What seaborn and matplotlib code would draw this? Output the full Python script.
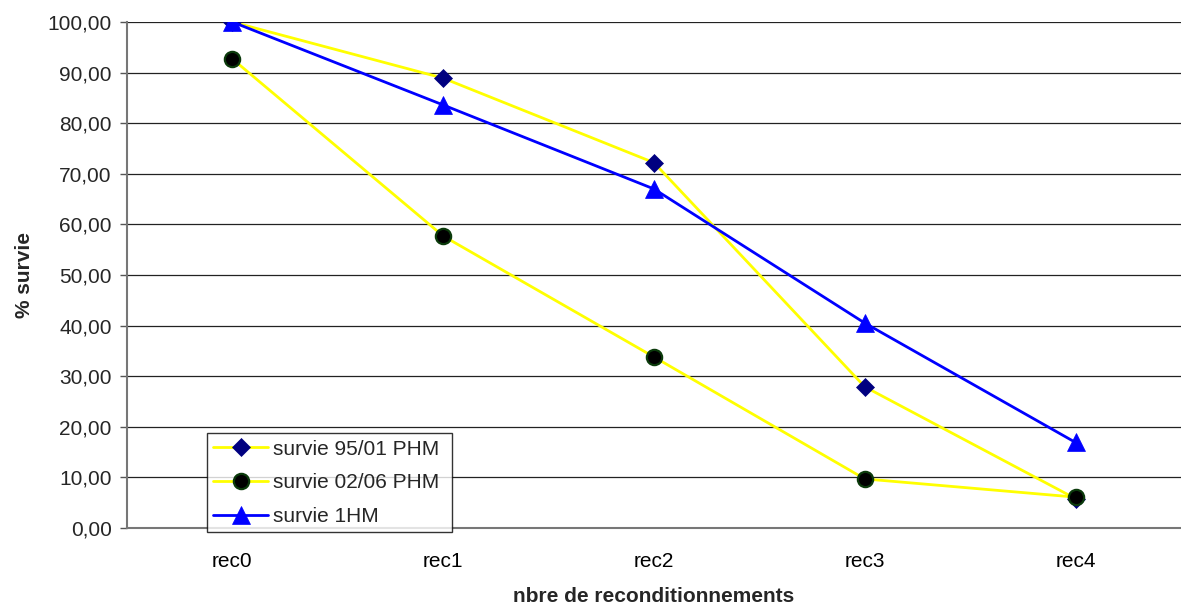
import matplotlib
matplotlib.use("Agg")
import matplotlib.pyplot as plt
import seaborn as sns
import pandas as pd
import numpy as np
from matplotlib.ticker import FuncFormatter, FixedLocator

categories = ["rec0", "rec1", "rec2", "rec3", "rec4"]
survie_95_01_PHM = [100.0, 88.9, 72.2, 27.9, 5.8]
survie_02_06_PHM = [92.7, 57.7, 33.8, 9.7, 6.1]
survie_1HM = [100.0, 83.6, 67.0, 40.5, 16.9]

sns.set_style("white")
plt.rcParams['font.family'] = ['Liberation Sans', 'DejaVu Sans']

fig = plt.figure(figsize=(11.81, 6.07), dpi=100)
ax = fig.add_axes([127/1181, (607-528)/607, (1181-127)/1181, (528-22)/607])

x = np.arange(len(categories))
series = [
    ("survie 95/01 PHM", survie_95_01_PHM, dict(color="#FFFF00", marker="D", markersize=9.5,
                                               markerfacecolor="#000080", markeredgecolor="#000080",
                                               markeredgewidth=0.5)),
    ("survie 02/06 PHM", survie_02_06_PHM, dict(color="#FFFF00", marker="o", markersize=11,
                                               markerfacecolor="#000000", markeredgecolor="#0B3A0B",
                                               markeredgewidth=1.6)),
    ("survie 1HM", survie_1HM, dict(color="#0000FF", marker="^", markersize=12.5,
                                   markerfacecolor="#0000FF", markeredgecolor="#0000FF",
                                   markeredgewidth=0.5)),
]
for name, vals, style in series:
    df = pd.DataFrame({"x": x, "y": vals})
    sns.lineplot(data=df, x="x", y="y", ax=ax, label=name, linewidth=2.0, **style)

ax.set_xlim(-0.5, len(categories) - 0.5)
ax.set_ylim(0, 100)
ax.set_yticks(np.arange(0, 101, 10))
ax.yaxis.set_major_formatter(FuncFormatter(lambda v, p: f"{v:.2f}".replace(".", ",")))
ax.yaxis.grid(True, color="#222222", linewidth=0.9)
ax.set_axisbelow(True)

ax.set_xticks(x)
ax.set_xticklabels(categories)
ax.xaxis.set_minor_locator(FixedLocator(np.arange(-0.5, len(categories), 1.0)))
ax.tick_params(axis="x", which="major", length=0, pad=17, labelsize=15, colors="black")
ax.tick_params(axis="x", which="minor", length=5, width=1, color="#555555", direction="out")
ax.tick_params(axis="y", which="major", length=5, width=1, color="#555555", direction="out",
               left=True, labelsize=15, pad=6)

for s in ["top", "right"]:
    ax.spines[s].set_visible(False)
for s in ["left", "bottom"]:
    ax.spines[s].set_color("#777777")
    ax.spines[s].set_linewidth(1.5)

ax.set_xlabel("nbre de reconditionnements", fontsize=15, fontweight="bold", labelpad=12)
ax.set_ylabel("% survie", fontsize=15, fontweight="bold", labelpad=10)

leg = ax.legend(loc="lower left", bbox_to_anchor=(0.0759, -0.008, 0.2325, 0.198), mode="expand",
                borderaxespad=0, frameon=True, fancybox=False, edgecolor="black", fontsize=15,
                handlelength=2.64, handletextpad=0.25, borderpad=0.3, labelspacing=0.7)
leg.get_frame().set_linewidth(1.0)
leg.set_zorder(5)

fig.savefig("out.png", dpi=100, facecolor="white")
